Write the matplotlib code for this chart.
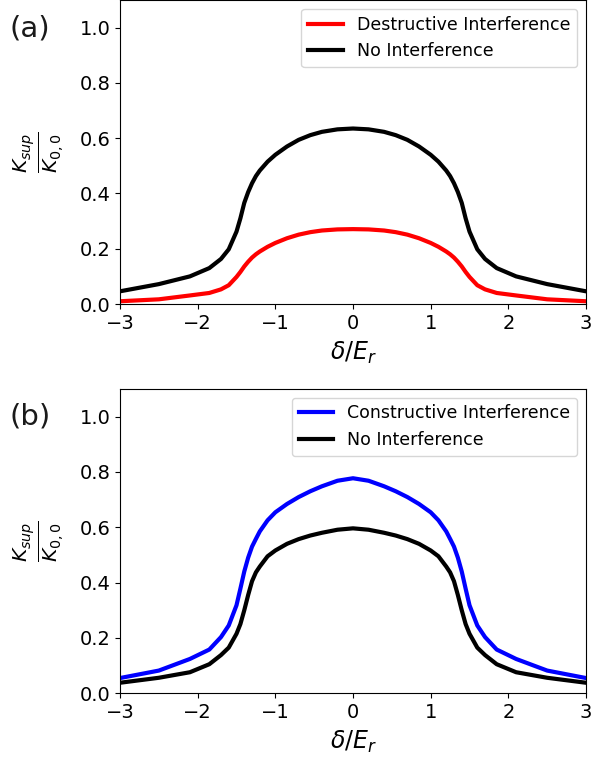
import numpy as np
import matplotlib
matplotlib.use('Agg')
import matplotlib.pyplot as plt

# detuning grid (delta / E_r)
delta = [-3.0, -2.5, -2.1, -1.85, -1.7, -1.6, -1.5, -1.45, -1.4, -1.35, -1.3, -1.25, -1.2,
         -1.1, -1.0, -0.85, -0.7, -0.55, -0.4, -0.2, 0.0,
         0.2, 0.4, 0.55, 0.7, 0.85, 1.0, 1.1,
         1.2, 1.25, 1.3, 1.35, 1.4, 1.45, 1.5, 1.6, 1.7, 1.85, 2.1, 2.5, 3.0]

# panel (a)
destructive = [0.010, 0.017, 0.031, 0.040, 0.053, 0.068, 0.098, 0.116, 0.136, 0.153, 0.168, 0.180, 0.190,
               0.207, 0.221, 0.238, 0.251, 0.260, 0.266, 0.270, 0.271,
               0.270, 0.266, 0.260, 0.251, 0.238, 0.221, 0.207,
               0.190, 0.180, 0.168, 0.153, 0.136, 0.116, 0.098, 0.068, 0.053, 0.040, 0.031, 0.017, 0.010]
no_interf_a = [0.046, 0.072, 0.100, 0.130, 0.163, 0.198, 0.262, 0.310, 0.366, 0.405, 0.437, 0.463, 0.483,
               0.515, 0.540, 0.570, 0.594, 0.611, 0.623, 0.632, 0.635,
               0.632, 0.623, 0.611, 0.594, 0.570, 0.540, 0.515,
               0.483, 0.463, 0.437, 0.405, 0.366, 0.310, 0.262, 0.198, 0.163, 0.130, 0.100, 0.072, 0.046]

# panel (b)
constructive = [0.055, 0.082, 0.124, 0.158, 0.203, 0.245, 0.318, 0.378, 0.440, 0.490, 0.530, 0.558, 0.585,
                0.625, 0.654, 0.684, 0.709, 0.730, 0.748, 0.768, 0.777,
                0.768, 0.748, 0.730, 0.709, 0.684, 0.654, 0.625,
                0.585, 0.558, 0.530, 0.490, 0.440, 0.378, 0.318, 0.245, 0.203, 0.158, 0.124, 0.082, 0.055]
no_interf_b = [0.038, 0.056, 0.076, 0.105, 0.138, 0.165, 0.215, 0.250, 0.300, 0.355, 0.405, 0.437, 0.458,
               0.495, 0.516, 0.540, 0.557, 0.570, 0.580, 0.591, 0.596,
               0.591, 0.580, 0.570, 0.557, 0.540, 0.516, 0.495,
               0.458, 0.437, 0.405, 0.355, 0.300, 0.250, 0.215, 0.165, 0.138, 0.105, 0.076, 0.056, 0.038]

fig = plt.figure(figsize=(5.92, 7.61), dpi=100)
ax1 = fig.add_axes([0.2027, 0.6005, 0.7872, 0.3995])
ax2 = fig.add_axes([0.2027, 0.0890, 0.7872, 0.4000])

panels = [
    (ax1, '(a)', 1 - 14 / 761, destructive, 'red', 'Destructive Interference', no_interf_a),
    (ax2, '(b)', 1 - 402 / 761, constructive, 'blue', 'Constructive Interference', no_interf_b),
]

for ax, tag, ty, ys, col, lab, ref in panels:
    ax.plot(delta, ys, color=col, lw=3, label=lab)
    ax.plot(delta, ref, color='black', lw=3, label='No Interference')
    ax.set_xlim(-3, 3)
    ax.set_ylim(0, 1.1)
    ax.set_yticks([0.0, 0.2, 0.4, 0.6, 0.8, 1.0])
    ax.tick_params(labelsize=14)
    ax.set_xlabel(r'$\delta/E_r$', fontsize=17, labelpad=5)
    ax.set_ylabel(r'$\frac{K_{sup}}{K_{0,0}}$', fontsize=21, labelpad=10)
    ax.legend(loc='upper right', fontsize=12.5, framealpha=0.8)
    fig.text(10 / 592, ty, tag, fontsize=21, color='#1a1a1a', ha='left', va='top')

fig.savefig('out.png', dpi=100)
